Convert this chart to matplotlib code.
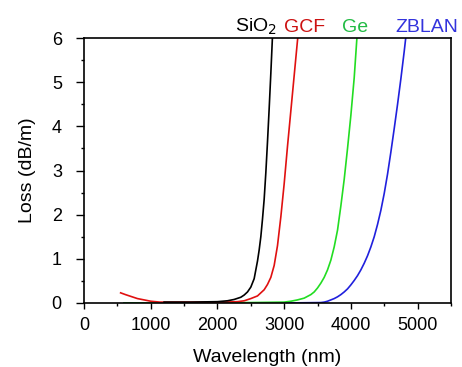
import matplotlib
matplotlib.use("Agg")
import matplotlib.pyplot as plt
from matplotlib.ticker import MultipleLocator

plt.rcParams['font.family'] = ['Liberation Sans', 'DejaVu Sans']

# loss curves (wavelength nm, loss dB/m)
sio2_x = [1200, 1600, 2000, 2150, 2250, 2350, 2400, 2450, 2500, 2550, 2600, 2625, 2650, 2675,
          2700, 2725, 2750, 2775, 2800, 2825]
sio2_y = [0.02, 0.02, 0.03, 0.05, 0.08, 0.13, 0.18, 0.25, 0.36, 0.55, 0.95, 1.2, 1.5, 1.9,
          2.35, 2.95, 3.65, 4.4, 5.2, 6.05]

gcf_x = [548, 620, 700, 800, 900, 1000, 1136, 1400, 1800, 2100, 2300, 2400, 2500, 2600, 2700,
         2750, 2800, 2850, 2900, 2950, 3000, 3050, 3100, 3150, 3200, 3210]
gcf_y = [0.23, 0.19, 0.15, 0.1, 0.07, 0.04, 0.02, 0.02, 0.02, 0.02, 0.03, 0.05, 0.1, 0.16, 0.3,
         0.42, 0.58, 0.85, 1.3, 1.95, 2.7, 3.55, 4.35, 5.15, 5.95, 6.1]

ge_x = [600, 1500, 2500, 3000, 3100, 3200, 3300, 3400, 3450, 3500, 3550, 3600, 3650, 3700, 3750,
        3800, 3850, 3900, 3950, 4000, 4050, 4095]
ge_y = [0.0, 0.0, 0.01, 0.02, 0.04, 0.07, 0.11, 0.19, 0.25, 0.34, 0.45, 0.58, 0.75, 0.97, 1.27,
        1.65, 2.2, 2.8, 3.5, 4.25, 5.1, 6.1]

zblan_x = [600, 2000, 3000, 3550, 3600, 3650, 3700, 3750, 3800, 3850, 3900, 3950, 4000, 4050, 4100,
           4150, 4200, 4250, 4300, 4350, 4400, 4450, 4500, 4550, 4600, 4650, 4700, 4750, 4800, 4830]
zblan_y = [0.0, 0.0, 0.0, 0.01, 0.02, 0.04, 0.07, 0.1, 0.14, 0.19, 0.25, 0.32, 0.41, 0.51, 0.62,
           0.75, 0.9, 1.07, 1.27, 1.5, 1.78, 2.1, 2.48, 2.92, 3.42, 3.95, 4.5, 5.08, 5.7, 6.1]

fig = plt.figure(figsize=(4.62, 3.67), dpi=100)
ax = fig.add_axes([0.182, 0.1744, 0.794, 0.722])

ax.plot(zblan_x, zblan_y, color='#2020dd', lw=1.2)
ax.plot(ge_x, ge_y, color='#22dd22', lw=1.2)
ax.plot(gcf_x, gcf_y, color='#e01010', lw=1.2)
ax.plot(sio2_x, sio2_y, color='black', lw=1.2)

ax.set_xlim(0, 5500)
ax.set_ylim(0, 6)
ax.xaxis.set_major_locator(MultipleLocator(1000))
ax.xaxis.set_minor_locator(MultipleLocator(500))
ax.yaxis.set_major_locator(MultipleLocator(1))
ax.yaxis.set_minor_locator(MultipleLocator(0.5))
ax.tick_params(which='major', direction='out', width=1, labelsize=13)
ax.tick_params(axis='x', which='major', length=4, pad=6)
ax.tick_params(axis='y', which='major', length=6, pad=10)
ax.tick_params(which='minor', direction='out', length=2.5, width=1)
for s in ax.spines.values():
    s.set_linewidth(1.2)

ax.set_xlabel('Wavelength (nm)', fontsize=14, labelpad=11)
ax.set_ylabel('Loss (dB/m)', fontsize=14, labelpad=11)

tr = ax.get_xaxis_transform()
ax.text(2582, 1.022, 'SiO$_2$', color='black', fontsize=14, ha='center', va='baseline', transform=tr)
ax.text(3306, 1.022, 'GCF', color='#cc1111', fontsize=14, ha='center', va='baseline', transform=tr)
ax.text(4060, 1.022, 'Ge', color='#22bb44', fontsize=14, ha='center', va='baseline', transform=tr)
ax.text(5142, 1.022, 'ZBLAN', color='#3333dd', fontsize=14, ha='center', va='baseline', transform=tr)

fig.savefig('out.png', dpi=100)
